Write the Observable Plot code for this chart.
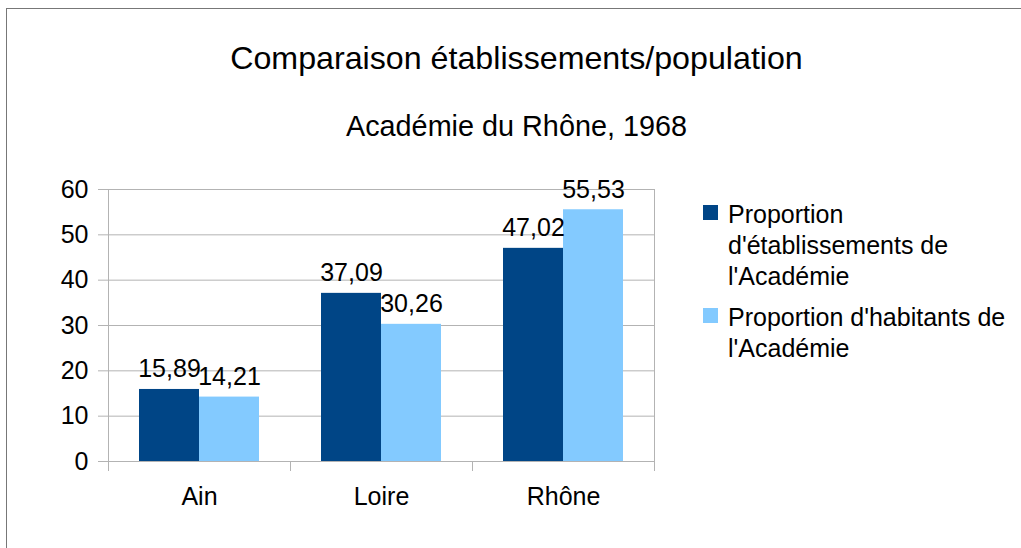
<!DOCTYPE html>
<html>
<head>
<meta charset="utf-8">
<script src="https://cdn.jsdelivr.net/npm/d3@7"></script>
<script src="https://cdn.jsdelivr.net/npm/@observablehq/plot@0.6"></script>
<style>
  html, body { margin: 0; padding: 0; background: #fff; }
  body { width: 1021px; height: 548px; overflow: hidden; position: relative; font-family: "Liberation Sans", Arial, sans-serif; color: #000; }
  #border { position: absolute; left: 6px; top: 8px; width: 1100px; height: 600px; border-left: 1px solid #777; border-top: 1px solid #777; }
  .title { position: absolute; left: 6px; width: 1021px; text-align: center; line-height: 1; white-space: nowrap; }
  #title { top: 42px; font-size: 32.2px; }
  #subtitle { top: 112px; font-size: 28.8px; }
  #chart { position: absolute; left: 0; top: 150px; }
  #legend { position: absolute; left: 703px; top: 199px; width: 318px; font-size: 25px; line-height: 31px; }
  .item { position: relative; padding-left: 25px; margin-bottom: 10px; }
  .sw { position: absolute; left: 0; top: 6px; width: 15px; height: 15px; }
</style>
</head>
<body>
<div id="border"></div>
<div id="title" class="title"></div>
<div id="subtitle" class="title"></div>
<div id="chart"></div>
<div id="legend"></div>
<script>
const titleText = "Comparaison établissements/population";
const subtitleText = "Académie du Rhône, 1968";
const categories = ["Ain", "Loire", "Rhône"];
const series = ["Proportion d'établissements de l'Académie", "Proportion d'habitants de l'Académie"];
const etablissements = [15.89, 37.09, 47.02];
const habitants = [14.21, 30.26, 55.53];
const colors = ["#004586", "#83caff"];
const yTicks = [0, 10, 20, 30, 40, 50, 60];

document.getElementById("title").textContent = titleText;
document.getElementById("subtitle").textContent = subtitleText;

const data = categories.flatMap((c, i) => [
  {cat: c, series: series[0], value: etablissements[i]},
  {cat: c, series: series[1], value: habitants[i]}
]);
const fmt = v => v.toFixed(2).replace(".", ",");
const grey = "#b3b3b3";

const chart = Plot.plot({
  width: 680,
  height: 370,
  marginLeft: 108,
  marginRight: 26,
  marginTop: 39,
  marginBottom: 59,
  style: {fontFamily: "'Liberation Sans', Arial, sans-serif", fontSize: "25px", color: "#000", background: "transparent", overflow: "visible"},
  fx: {domain: categories, paddingInner: 0, paddingOuter: 0, label: null},
  x: {domain: series, paddingInner: 0, paddingOuter: 0.5, axis: null},
  y: {domain: [0, 60], ticks: yTicks, label: null},
  color: {domain: series, range: colors},
  marks: [
    Plot.gridY(yTicks, {stroke: grey, strokeOpacity: 1}),
    Plot.frame({anchor: "left", facetAnchor: "left", stroke: grey, insetBottom: -9}),
    Plot.frame({anchor: "right", facetAnchor: "right", stroke: grey, insetBottom: -9}),
    Plot.frame({anchor: "left", stroke: grey, insetTop: 272, insetBottom: -9}),
    Plot.barY(data, {fx: "cat", x: "series", y: "value", fill: "series"}),
    Plot.ruleY([0], {stroke: grey}),
    Plot.text(data, {fx: "cat", x: "series", y: "value", text: d => fmt(d.value), dy: -20, fontSize: 25, fill: "#000"}),
    Plot.axisY({ticks: yTicks, tickSize: 10, tickPadding: 10, stroke: grey, fill: "#000", fontSize: 25, label: null}),
    Plot.axisFx({anchor: "bottom", tickSize: 0, tickPadding: 26, fontSize: 25, fill: "#000", label: null})
  ]
});
document.getElementById("chart").appendChild(chart);

const legend = document.getElementById("legend");
series.forEach((s, i) => {
  const item = document.createElement("div");
  item.className = "item";
  const sw = document.createElement("span");
  sw.className = "sw";
  sw.style.background = colors[i];
  item.appendChild(sw);
  item.appendChild(document.createTextNode(s));
  legend.appendChild(item);
});
</script>
</body>
</html>
